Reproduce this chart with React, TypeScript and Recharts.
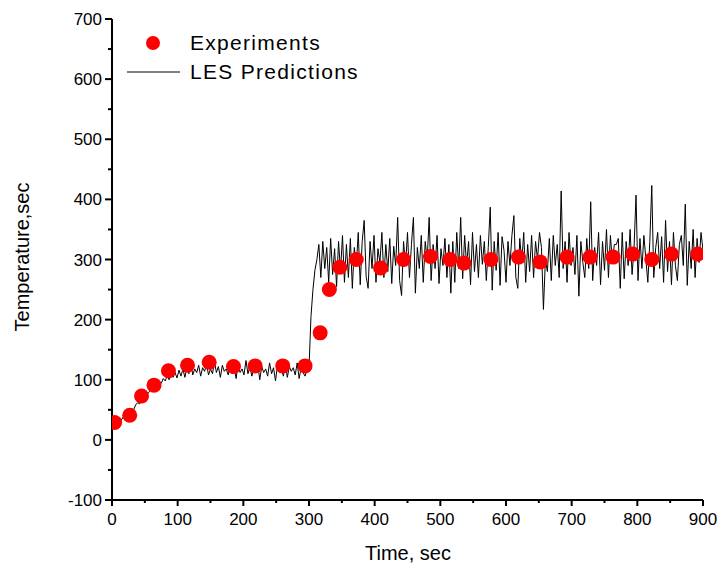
import { ComposedChart, Line, Scatter, XAxis, YAxis } from 'recharts';

// experimental points (time in sec, temperature)
const expTime = [4, 27, 45, 64, 86, 115, 148, 185, 218, 260, 294, 317, 331, 347, 372, 409, 444, 485, 515, 536, 577, 619, 652, 693, 728, 763, 793, 822, 852, 892];
const expTemp = [29, 41, 73, 91, 115, 124, 129, 122, 123, 123, 123, 178, 250, 287, 300, 286, 300, 305, 300, 294, 300, 304, 296, 304, 304, 304, 309, 300, 309, 309];

// LES prediction trace
const lesTime = [
  0, 3, 6, 9, 12, 15, 18, 21, 24, 27, 30, 33, 36, 39, 42, 45, 48, 51, 54, 57,
  60, 63, 66, 69, 72, 75, 78, 81, 84, 87, 90, 93, 96, 99, 102, 105, 108, 111, 114, 117,
  120, 123, 126, 129, 132, 135, 138, 141, 144, 147, 150, 153, 156, 159, 162, 165, 168, 171, 174, 177,
  180, 183, 186, 189, 192, 195, 198, 201, 204, 207, 210, 213, 216, 219, 222, 225, 228, 231, 234, 237,
  240, 243, 246, 249, 252, 255, 258, 261, 264, 267, 270, 273, 276, 279, 282, 285, 288, 291, 294, 297,
  300, 303, 306, 309, 312, 315, 318, 321, 324, 327, 330, 333, 336, 339, 342, 345, 348, 351, 354, 357,
  360, 363, 366, 369, 372, 375, 378, 381, 384, 387, 390, 393, 396, 399, 402, 405, 408, 411, 414, 417,
  420, 423, 426, 429, 432, 435, 438, 441, 444, 447, 450, 453, 456, 459, 462, 465, 468, 471, 474, 477,
  480, 483, 486, 489, 492, 495, 498, 501, 504, 507, 510, 513, 516, 519, 522, 525, 528, 531, 534, 537,
  540, 543, 546, 549, 552, 555, 558, 561, 564, 567, 570, 573, 576, 579, 582, 585, 588, 591, 594, 597,
  600, 603, 606, 609, 612, 615, 618, 621, 624, 627, 630, 633, 636, 639, 642, 645, 648, 651, 654, 657,
  660, 663, 666, 669, 672, 675, 678, 681, 684, 687, 690, 693, 696, 699, 702, 705, 708, 711, 714, 717,
  720, 723, 726, 729, 732, 735, 738, 741, 744, 747, 750, 753, 756, 759, 762, 765, 768, 771, 774, 777,
  780, 783, 786, 789, 792, 795, 798, 801, 804, 807, 810, 813, 816, 819, 822, 825, 828, 831, 834, 837,
  840, 843, 846, 849, 852, 855, 858, 861, 864, 867, 870, 873, 876, 879, 882, 885, 888, 891, 894, 897,
  900,
];
const lesTemp = [
  22, 22, 22, 30, 35, 34, 40, 44, 42, 50, 52, 50, 58, 62, 60, 68, 72, 70, 77, 80,
  86, 84, 92, 90, 96, 94, 102, 98, 106, 100, 108, 104, 112, 103, 116, 106, 118, 104, 120, 110,
  128, 108, 118, 112, 124, 106, 120, 114, 126, 108, 118, 110, 130, 112, 122, 104, 124, 114, 118, 108,
  124, 110, 120, 102, 126, 112, 118, 108, 132, 110, 122, 106, 120, 114, 126, 100, 122, 112, 118, 106,
  128, 110, 120, 98, 124, 112, 118, 106, 126, 104, 122, 114, 120, 108, 128, 102, 120, 112, 106, 118,
  120, 205, 250, 282, 300, 325, 270, 330, 285, 320, 262, 335, 275, 318, 255, 330, 280, 340, 262, 325,
  270, 335, 252, 320, 290, 345, 258, 330, 365, 272, 252, 330, 285, 340, 262, 318, 295, 345, 270, 325,
  280, 335, 260, 322, 290, 370, 265, 240, 330, 290, 345, 270, 325, 370, 244, 320, 285, 340, 262, 330,
  300, 370, 265, 325, 285, 340, 260, 318, 290, 335, 270, 325, 244, 330, 262, 345, 285, 370, 268, 340,
  290, 330, 258, 345, 280, 325, 270, 340, 292, 330, 265, 320, 387, 249, 330, 282, 345, 257, 338, 315,
  262, 330, 290, 340, 373, 270, 252, 335, 295, 345, 262, 325, 280, 340, 270, 330, 300, 345, 320, 217,
  300, 280, 335, 265, 340, 290, 325, 270, 414, 285, 330, 262, 345, 290, 320, 275, 340, 239, 330, 295,
  270, 335, 285, 396, 265, 320, 290, 345, 258, 330, 282, 350, 270, 340, 295, 325, 325, 335, 252, 345,
  268, 330, 290, 350, 275, 320, 407, 265, 335, 285, 340, 300, 262, 330, 423, 270, 320, 345, 285, 338,
  262, 365, 280, 330, 258, 345, 290, 265, 325, 340, 290, 392, 257, 330, 285, 350, 270, 335, 295, 345,
  315,
];

const xTicks = [0, 50, 100, 150, 200, 250, 300, 350, 400, 450, 500, 550, 600, 650, 700, 750, 800, 850, 900];
const yTicks = [-100, -50, 0, 50, 100, 150, 200, 250, 300, 350, 400, 450, 500, 550, 600, 650, 700];

const expData = expTime.map((t, i) => ({ t, temp: expTemp[i] }));
const lesData = lesTime.map((t, i) => ({ t, temp: lesTemp[i] }));

const FONT = '"Liberation Sans", Arial, sans-serif';

const XTick = (props: any) => {
  const { x, y, payload } = props;
  const major = payload.value % 100 === 0;
  return (
    <g>
      <line x1={x} x2={x} y1={y} y2={y + (major ? 6 : 3)} stroke="#000" strokeWidth={2} />
      {major && (
        <text x={x} y={y + 25} textAnchor="middle" fontFamily={FONT} fontSize={17} fill="#000">
          {payload.value}
        </text>
      )}
    </g>
  );
};

const YTick = (props: any) => {
  const { x, y, payload } = props;
  const major = payload.value % 100 === 0;
  return (
    <g>
      <line x1={x - (major ? 7 : 4)} x2={x} y1={y} y2={y} stroke="#000" strokeWidth={2} />
      {major && (
        <text x={x - 10} y={y + 6} textAnchor="end" fontFamily={FONT} fontSize={17} fill="#000">
          {payload.value}
        </text>
      )}
    </g>
  );
};

export default function App() {
  return (
    <div style={{ position: 'relative', width: 720, height: 569, background: '#fff' }}>
      <style>{'html, body { margin: 0; overflow: hidden; }'}</style>
      <ComposedChart width={720} height={569} margin={{ top: 19, right: 17, bottom: 0, left: 0 }}>
        <XAxis
          dataKey="t"
          type="number"
          domain={[0, 900]}
          ticks={xTicks}
          interval={0}
          tickSize={0}
          tickMargin={0}
          tickLine={false}
          axisLine={{ stroke: '#000', strokeWidth: 2 }}
          tick={<XTick />}
          height={69}
          allowDataOverflow
          label={{
            content: () => (
              <text x={408} y={560} textAnchor="middle" fontFamily={FONT} fontSize={20} fill="#000">
                Time, sec
              </text>
            ),
          }}
        />
        <YAxis
          type="number"
          domain={[-100, 700]}
          ticks={yTicks}
          interval={0}
          tickSize={0}
          tickMargin={0}
          tickLine={false}
          axisLine={{ stroke: '#000', strokeWidth: 2 }}
          tick={<YTick />}
          width={112}
          allowDataOverflow
          label={{
            content: () => (
              <text
                x={29}
                y={257}
                transform="rotate(-90 29 257)"
                textAnchor="middle"
                fontFamily={FONT}
                fontSize={20}
                fill="#000"
              >
                Temperature,sec
              </text>
            ),
          }}
        />
        <Scatter
          name="Experiments"
          data={expData}
          dataKey="temp"
          fill="#ff0000"
          isAnimationActive={false}
          shape={(p: any) => <circle cx={p.cx} cy={p.cy} r={7.5} fill="#ff0000" />}
        />
        <Line
          name="LES Predictions"
          data={lesData}
          dataKey="temp"
          type="linear"
          stroke="#000"
          strokeWidth={1}
          dot={false}
          activeDot={false}
          isAnimationActive={false}
        />
      </ComposedChart>
      <svg width={260} height={60} style={{ position: 'absolute', left: 127, top: 35, overflow: 'visible' }}>
        <circle cx={26} cy={8} r={7} fill="#ff0000" />
        <text x={63} y={15} fontFamily={FONT} fontSize={21} letterSpacing={1.3} fill="#000">Experiments</text>
        <line x1={0} x2={53} y1={37} y2={37} stroke="#000" strokeWidth={1} />
        <text x={63} y={44} fontFamily={FONT} fontSize={21} letterSpacing={1.3} fill="#000">LES Predictions</text>
      </svg>
    </div>
  );
}
